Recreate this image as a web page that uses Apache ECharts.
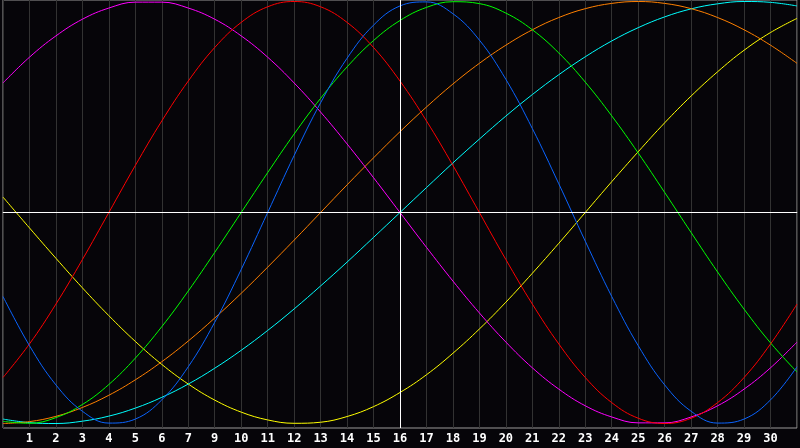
<!DOCTYPE html>
<html>
<head>
<meta charset="utf-8">
<script src="https://cdn.jsdelivr.net/npm/echarts@6/dist/echarts.min.js"></script>
<style>
html,body{margin:0;padding:0;background:#060509;}
#chart{width:800px;height:448px;}
</style>
</head>
<body>
<div id="chart"></div>
<script>
// Day tick labels (as printed under the chart; index 0 and 30 unlabelled)
var dayLabels = ['', '1', '2', '3', '4', '5', '6', '7', '9', '10', '11', '12', '13', '14', '15', '16',
  '17', '18', '19', '20', '21', '22', '23', '24', '25', '26', '27', '28', '29', '30', ''];

// Curve values at each day gridline (-1 .. 1)
var blueValues = [-0.398, -0.631, -0.817, -0.942, -0.998, -0.979, -0.888, -0.731, -0.520, -0.270, 0,
  0.270, 0.520, 0.731, 0.888, 0.979, 0.998, 0.942, 0.817, 0.631, 0.398,
  0.136, -0.136, -0.398, -0.631, -0.817, -0.942, -0.998, -0.979, -0.888, -0.731];
var redValues = [-0.782, -0.623, -0.434, -0.223, 0, 0.223, 0.434, 0.623, 0.782, 0.901, 0.975,
  1, 0.975, 0.901, 0.782, 0.623, 0.434, 0.223, 0, -0.223, -0.434,
  -0.623, -0.782, -0.901, -0.975, -1, -0.975, -0.901, -0.782, -0.623, -0.434];
var greenValues = [-0.990, -0.999, -0.972, -0.910, -0.815, -0.690, -0.541, -0.372, -0.189, 0, 0.189,
  0.372, 0.541, 0.690, 0.815, 0.910, 0.972, 0.999, 0.990, 0.945, 0.866,
  0.756, 0.618, 0.458, 0.282, 0.095, -0.095, -0.282, -0.458, -0.618, -0.756];
var magentaValues = [0.614, 0.736, 0.837, 0.916, 0.969, 0.997, 0.997, 0.969, 0.916, 0.837, 0.736,
  0.614, 0.476, 0.325, 0.165, 0, -0.165, -0.325, -0.476, -0.614, -0.736,
  -0.837, -0.916, -0.969, -0.997, -0.997, -0.969, -0.916, -0.837, -0.736, -0.614];
var yellowValues = [0.073, -0.073, -0.217, -0.357, -0.489, -0.611, -0.720, -0.813, -0.889, -0.946, -0.983,
  -0.999, -0.994, -0.967, -0.920, -0.853, -0.769, -0.667, -0.552, -0.425, -0.288,
  -0.146, 0, 0.146, 0.288, 0.425, 0.552, 0.667, 0.769, 0.853, 0.920];
var orangeValues = [-1, -0.991, -0.966, -0.924, -0.866, -0.793, -0.707, -0.609, -0.5, -0.383, -0.259,
  -0.131, 0, 0.131, 0.259, 0.383, 0.5, 0.609, 0.707, 0.793, 0.866,
  0.924, 0.966, 0.991, 1, 0.991, 0.966, 0.924, 0.866, 0.793, 0.707];
var cyanValues = [-0.979, -0.996, -1.000, -0.989, -0.965, -0.927, -0.876, -0.813, -0.738, -0.653, -0.559,
  -0.457, -0.348, -0.235, -0.118, 0, 0.118, 0.235, 0.348, 0.457, 0.559,
  0.653, 0.738, 0.813, 0.876, 0.927, 0.965, 0.989, 1.000, 0.996, 0.979];

var todayIndex = 15;

function line(name, data, color) {
  return {
    name: name,
    type: 'line',
    data: data,
    smooth: 0.4,
    showSymbol: false,
    symbol: 'none',
    lineStyle: { color: color, width: 1 },
    itemStyle: { color: color },
    silent: true
  };
}

var series = [
  line('yellow', yellowValues, '#ffff00'),
  line('cyan', cyanValues, '#00ffff'),
  line('orange', orangeValues, '#ff8000'),
  line('magenta', magentaValues, '#ff00ff'),
  line('green', greenValues, '#00ff00'),
  line('red', redValues, '#ff0000'),
  line('blue', blueValues, '#0a64ff')
];

series.unshift({
  type: 'line',
  data: [],
  silent: true,
  markLine: {
    silent: true,
    symbol: 'none',
    label: { show: false },
    lineStyle: { color: '#ffffff', width: 1, type: 'solid' },
    data: [{ yAxis: 0 }, { xAxis: todayIndex }]
  }
});

var chart = echarts.init(document.getElementById('chart'), null, { renderer: 'canvas' });
chart.setOption({
  backgroundColor: '#060509',
  animation: false,
  grid: {
    left: 0, right: -1, top: 0, bottom: 20,
    show: true, borderColor: '#9a9a9a', borderWidth: 1, backgroundColor: 'transparent'
  },
  xAxis: {
    type: 'category',
    data: dayLabels,
    boundaryGap: false,
    axisLine: { show: true, lineStyle: { color: '#9a9a9a', width: 1 } },
    axisTick: { show: false },
    axisLabel: {
      interval: 0,
      color: '#ffffff',
      fontFamily: 'DejaVu Sans Mono',
      fontWeight: 'bold',
      fontSize: 12,
      margin: 5
    },
    splitLine: { show: true, interval: 0, lineStyle: { color: '#323232', width: 1 } }
  },
  yAxis: {
    type: 'value',
    min: -1.0213,
    max: 1.0071,
    axisLine: { show: false },
    axisTick: { show: false },
    axisLabel: { show: false },
    splitLine: { show: false }
  },
  series: series
});
</script>
</body>
</html>
